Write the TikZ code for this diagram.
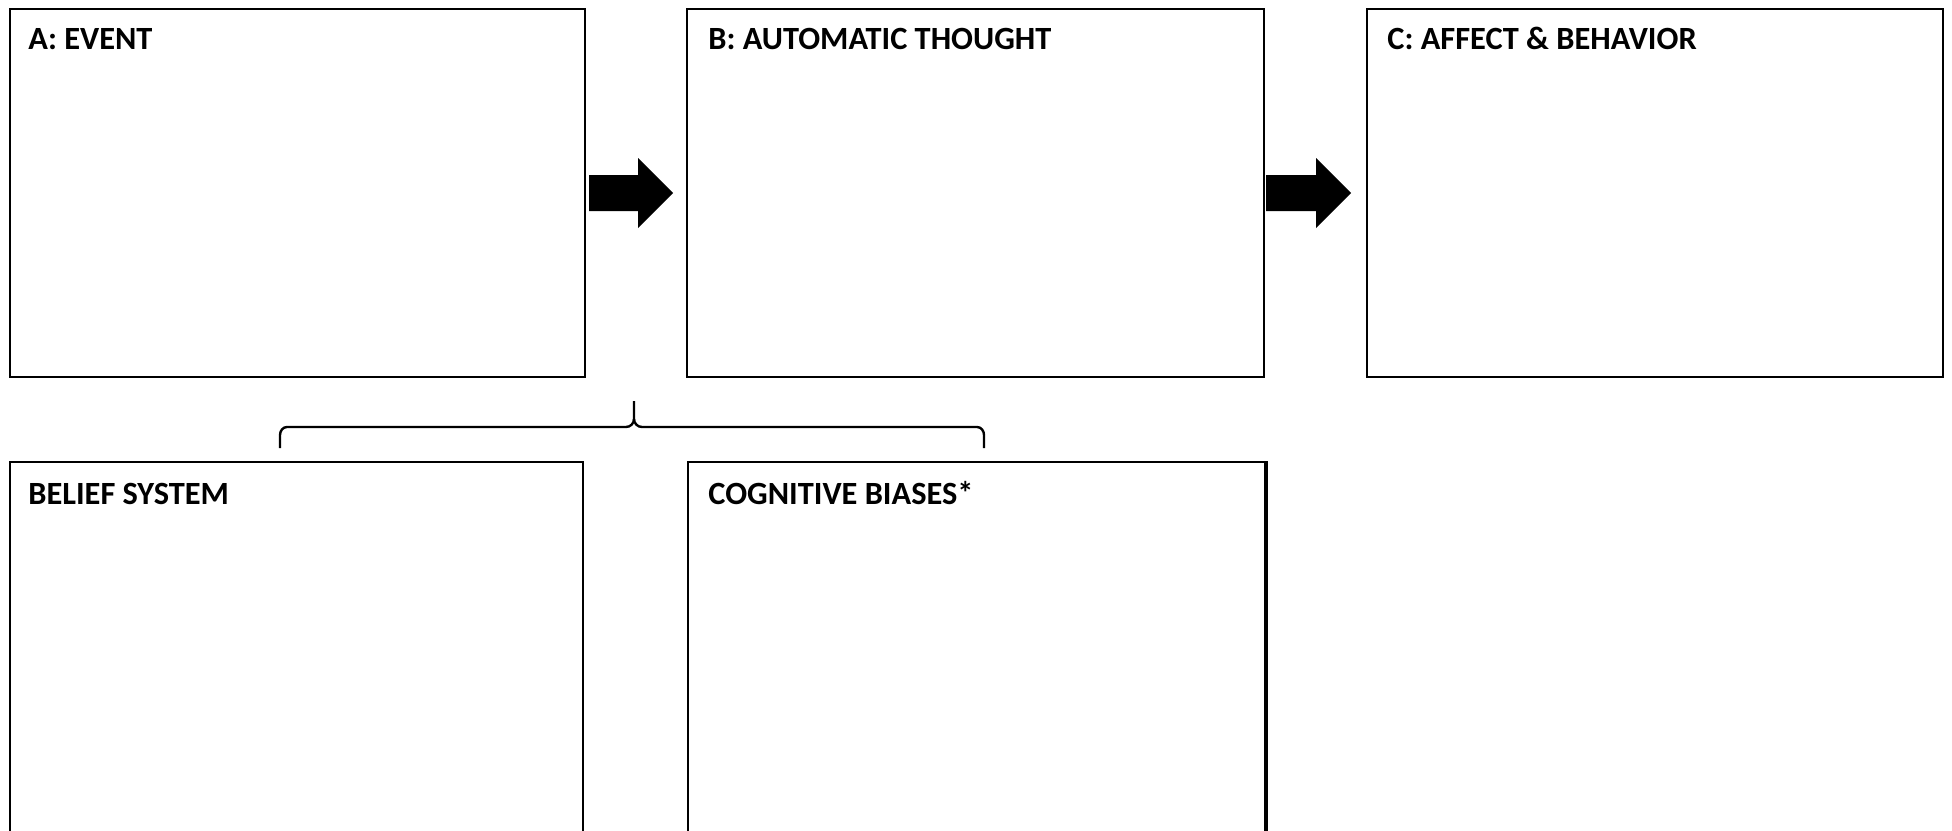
\documentclass[tikz,border=0pt]{standalone}
\usepackage{fontspec}
\setmainfont{Carlito}
\usetikzlibrary{calc}
\begin{document}
\begin{tikzpicture}[x=0.5pt,y=-0.5pt,
  panel/.style={draw=black,line width=1pt,inner sep=0pt,fill=none},
  heading/.style={anchor=base west,inner sep=0pt,font=\fontsize{16.2pt}{19pt}\selectfont\bfseries},
  blockarrow/.style={fill=black},
  bracket/.style={draw=black,line width=1.2pt}]
\useasboundingbox (0,0) rectangle (1952,830);
\clip (0,0) rectangle (1952,830);
\fill[white] (0,0) rectangle (1952,830);

% top row of panels
\node[panel,minimum width=287.5pt,minimum height=184pt] (A) at (297.5,193) {};
\node[panel,minimum width=288.5pt,minimum height=184pt] (B) at (975.5,193) {};
\node[panel,minimum width=288pt,minimum height=184pt] (C) at (1655,193) {};

% bottom row of panels, running past the lower edge
\node[panel,minimum width=286.5pt,minimum height=200pt] (BS) at (296.5,662) {};
\node[panel,minimum width=288.5pt,minimum height=200pt] (CB) at (976.5,662) {};
\draw[line width=1.5pt] (CB.north east) -- (CB.south east);

% headings
\node[heading] (tA) at (28,49) {A: EVENT};
\node[heading] (tB) at (708,49) {B: AUTOMATIC THOUGHT};
\node[heading] (tC) at (1387,49) {C: AFFECT \& BEHAVIOR};
\node[heading] (tBS) at (28,504) {BELIEF SYSTEM};
\node[heading] (tCB) at (708,504) {COGNITIVE BIASES*};

% block arrows between the top panels
\fill[blockarrow] ($(A.east)+(3,-18)$) -- ++(49,0) -- ++(0,-17) -- ++(35,35) -- ++(-35,35)
  -- ++(0,-17) -- ++(-49,0) -- cycle;
\fill[blockarrow] ($(B.east)+(1,-18)$) -- ++(50,0) -- ++(0,-17) -- ++(35,35) -- ++(-35,35)
  -- ++(0,-17) -- ++(-50,0) -- cycle;

% brace grouping the lower panels
\coordinate (bl) at (280,448);
\coordinate (bm) at (634,401);
\coordinate (br) at (984,448);
\draw[bracket] (bl) -- (280,435) to[out=90,in=180] (287,427) -- (626,427)
  to[out=0,in=-90] (634,419) -- (bm);
\draw[bracket] (634,419) to[out=-90,in=180] (642,427) -- (977,427)
  to[out=0,in=90] (984,435) -- (br);
\end{tikzpicture}
\end{document}
